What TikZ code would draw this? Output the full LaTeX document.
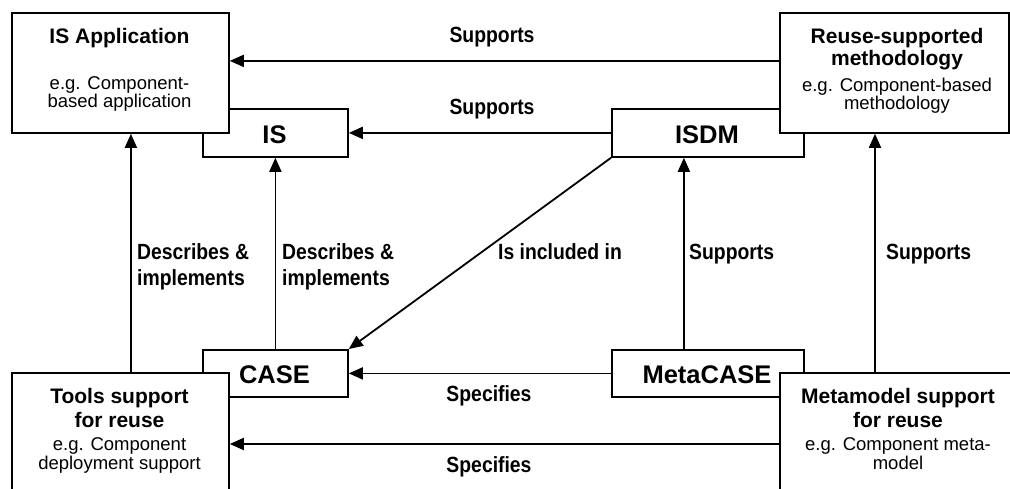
\documentclass[tikz,border=0pt]{standalone}
\usepackage{fontspec}
\setmainfont{Liberation Sans}
\newfontfamily\lblfont[FakeStretch=0.88]{Liberation Sans}
\usetikzlibrary{arrows.meta}

\tikzset{
  box/.style={draw, fill=white, line width=1.8pt, inner sep=0pt, anchor=north west},
  conn/.style={line width=1.8pt, -{Triangle[length=14pt,width=12pt]}},
  title/.style={anchor=base, inner sep=0pt, font=\bfseries\fontsize{21}{23}\selectfont},
  desc/.style={anchor=base, inner sep=0pt, font=\fontsize{18.5}{20}\selectfont},
  tag/.style={anchor=base, inner sep=0pt, font=\bfseries\fontsize{25.5}{28}\selectfont},
  lbl/.style={anchor=base west, inner sep=0pt, font=\lblfont\bfseries\fontsize{22}{26}\selectfont},
  lblc/.style={lbl, anchor=base},
}

\begin{document}
\begin{tikzpicture}[x=1pt,y=-1pt]
\clip (0,0) rectangle (1010,489);
\fill[white] (0,0) rectangle (1010,489);

% back boxes (partly hidden by the front boxes)
\node[box, minimum width=145pt, minimum height=48pt] (isbox) at (202,108) {};
\node[box, minimum width=192pt, minimum height=48pt] (isdm)  at (611,108) {};
\node[box, minimum width=145pt, minimum height=47pt] (case)  at (202,349) {};
\node[box, minimum width=192pt, minimum height=47pt] (meta)  at (611,349) {};

% front boxes
\node[box, minimum width=217pt, minimum height=120pt] (app)   at (11,12) {};
\node[box, minimum width=229pt, minimum height=120pt] (reuse) at (779,12) {};
\node[box, minimum width=217pt, minimum height=140pt] (tools) at (11,372) {};
\node[box, minimum width=238pt, minimum height=140pt] (mm)    at (779,372) {};

% box texts
\node[tag] (isT)   at (274.5,144) {IS};
\node[tag] (isdmT) at (707,144) {ISDM};
\node[tag] (caseT) at (274.5,383) {CASE};
\node[tag] (metaT) at (707,383) {MetaCASE};

\node[title] (appT1) at (119.5,44) {IS Application};
\node[desc]  (appD1) at (119.5,90) {e.g. Component-};
\node[desc]  (appD2) at (119.5,108) {based application};

\node[title] (reuT1) at (897,44) {Reuse-supported};
\node[title] (reuT2) at (897,66) {methodology};
\node[desc]  (reuD1) at (897,92) {e.g. Component-based};
\node[desc]  (reuD2) at (897,110) {methodology};

\node[title] (tooT1) at (119.5,403) {Tools support};
\node[title] (tooT2) at (119.5,427) {for reuse};
\node[desc]  (tooD1) at (119.5,450) {e.g. Component};
\node[desc]  (tooD2) at (119.5,469) {deployment support};

\node[title] (mmT1) at (898,403) {Metamodel support};
\node[title] (mmT2) at (898,427) {for reuse};
\node[desc]  (mmD1) at (898,450) {e.g. Component meta-};
\node[desc]  (mmD2) at (898,469) {model};

% connectors
\draw[conn] ([yshift=12pt]reuse.west) -- ([yshift=12pt]app.east);
\draw[conn] (isdm.west) -- (isbox.east);
\draw[conn] ([xshift=10.5pt]tools.north west -| app.south) -- ([xshift=10.5pt]app.south);
\draw[conn] (case.north) -- (isbox.south);
\draw[conn] (isdm.south west) -- (case.north east);
\draw[conn] ([xshift=-24pt]meta.north) -- ([xshift=-24pt]isdm.south);
\draw[conn] ([xshift=96pt]mm.north west) -- ([xshift=96pt]reuse.south west);
\draw[conn] (meta.west) -- (case.east);
\draw[conn] ([yshift=-72pt]mm.north west) -- ([yshift=-72pt]tools.north east);

% connector labels
\node[lblc] (s1) at (492,43) {Supports};
\node[lblc] (s2) at (492,115) {Supports};
\node[lbl] (d1a) at (137,260) {Describes \&};
\node[lbl] (d1b) at (137,286) {implements};
\node[lbl] (d2a) at (282,260) {Describes \&};
\node[lbl] (d2b) at (282,286) {implements};
\node[lbl] (inc) at (498,260) {Is included in};
\node[lbl] (s3) at (689,260) {Supports};
\node[lbl] (s4) at (886,260) {Supports};
\node[lblc] (sp1) at (489,401) {Specifies};
\node[lblc] (sp2) at (489,472) {Specifies};
\end{tikzpicture}
\end{document}
